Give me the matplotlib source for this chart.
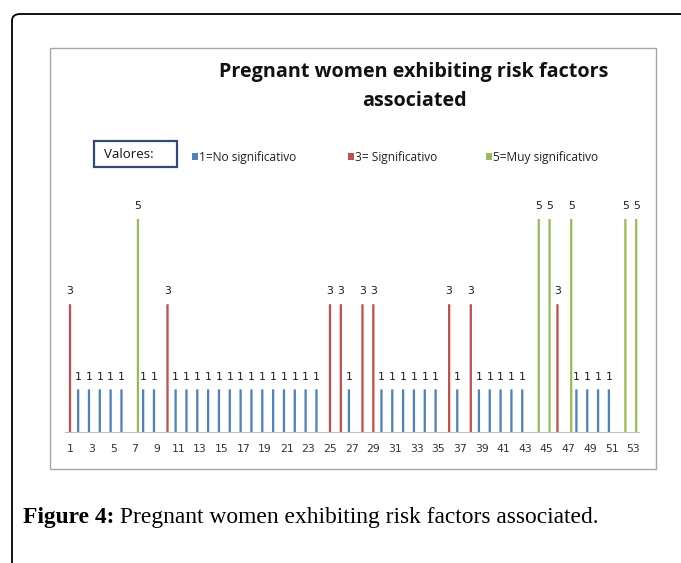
import matplotlib
matplotlib.use("Agg")
import matplotlib.pyplot as plt
from matplotlib.patches import Rectangle, FancyBboxPatch
import numpy as np

# ---- data ----
categories = list(range(1, 54))
values = [3, 1, 1, 1, 1, 1, 5, 1, 1, 3,
          1, 1, 1, 1, 1, 1, 1, 1, 1, 1,
          1, 1, 1, 1, 3, 3, 1, 3, 3, 1,
          1, 1, 1, 1, 1, 3, 1, 3, 1, 1,
          1, 1, 1, 5, 5, 3, 5, 1, 1, 1,
          1, 5, 5]
series_values = [1, 3, 5]
series_labels = ["1=No significativo", "3= Significativo", "5=Muy significativo"]
series_colors = ["#4F81BD", "#C0504D", "#9BBB59"]
series_offsets = [-0.25, 0.0, 0.27]
tick_labels = [str(c) if c % 2 == 1 else "" for c in categories]
title_lines = ["Pregnant women exhibiting risk factors", "associated"]
caption_bold = "Figure 4:"
caption_rest = " Pregnant women exhibiting risk factors associated."

W, H = 681, 563
fig = plt.figure(figsize=(W / 100, H / 100), dpi=100)

def fx(px):
    return px / W

def fy(py):
    return 1 - py / H

# outer rounded frame
frame = FancyBboxPatch((fx(12), fy(600)), fx(700), fy(14) - fy(600),
                       boxstyle="round,pad=0,rounding_size=0.012",
                       transform=fig.transFigure, fill=False,
                       edgecolor="black", linewidth=1.3)
fig.patches.append(frame)

# chart area border
fig.patches.append(Rectangle((fx(50), fy(469)), fx(656) - fx(50), fy(48) - fy(469),
                             transform=fig.transFigure, fill=False,
                             edgecolor="#A6A6A6", linewidth=1.0))

ax = fig.add_axes([fx(64.6), fy(432), fx(638.7) - fx(64.6), fy(176.4) - fy(432)])
x = np.array(categories)
vals = np.array(values)
for sv, col, off in zip(series_values, series_colors, series_offsets):
    mask = vals == sv
    ax.bar(x[mask] + off, vals[mask], width=0.21, color=col, linewidth=0,
           snap=False)
    for xi, vi in zip(x[mask], vals[mask]):
        ax.text(xi + off, vi + 0.3, str(vi), ha="center", va="center",
                fontsize=7.8, color="#1a1a1a", family="DejaVu Sans")

ax.set_xlim(0.5, 53.5)
ax.set_ylim(0, 6)
ax.set_xticks(categories)
ax.set_xticklabels(tick_labels, fontsize=7.8, color="#333333")
ax.tick_params(axis="x", length=0, pad=9)
ax.set_yticks([])
for s in ["top", "right", "left"]:
    ax.spines[s].set_visible(False)
ax.spines["bottom"].set_color("#BFBFBF")
ax.patch.set_alpha(0)

# title
for ty, line in zip([72, 101], title_lines):
    fig.text(fx(414), fy(ty), line, ha="center", va="center", fontsize=14.2,
             fontweight="bold", family="Open Sans", color="#111111")

# legend
fig.patches.append(Rectangle((fx(94), fy(167)), fx(177) - fx(94), fy(141) - fy(167),
                             transform=fig.transFigure, fill=False,
                             edgecolor="#2F4B7C", linewidth=1.6))
fig.text(fx(104), fy(155), "Valores:", ha="left", va="center", fontsize=9.5,
         color="#111111", family="Open Sans")
leg_x = [192, 348, 486]
for lx, lab, col in zip(leg_x, series_labels, series_colors):
    fig.patches.append(Rectangle((fx(lx), fy(160)), fx(6), fy(153) - fy(160),
                                 transform=fig.transFigure, facecolor=col,
                                 edgecolor="none"))
    fig.text(fx(lx + 7), fy(157), lab, ha="left", va="center", fontsize=8.6,
             color="#222222", family="Open Sans")

# caption
t1 = fig.text(fx(23), fy(523), caption_bold, ha="left", va="baseline",
              fontsize=16.9, fontweight="bold", family="Liberation Serif")
fig.canvas.draw()
bb = t1.get_window_extent()
fig.text(bb.x1 / (W), fy(523), caption_rest, ha="left", va="baseline",
         fontsize=16.9, family="Liberation Serif")

fig.savefig("out.png", dpi=100)
